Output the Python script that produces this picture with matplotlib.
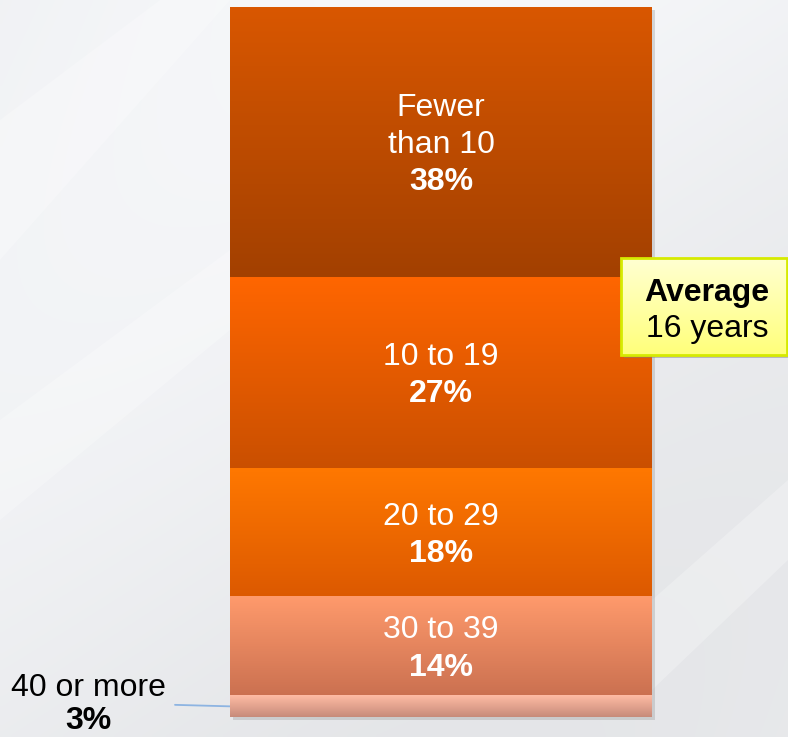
import numpy as np
import matplotlib
matplotlib.use('agg')
import matplotlib.pyplot as plt
from matplotlib.colors import to_rgb
from matplotlib.patches import Rectangle, Polygon

plt.rcParams['font.family'] = ['Liberation Sans', 'DejaVu Sans']

# data
categories = ['Fewer\nthan 10', '10 to 19', '20 to 29', '30 to 39', '40 or more']
shares = [38, 27, 18, 14, 3]
avg_label = 'Average'
avg_value = '16 years'

# gradient colours for each segment (top, bottom)
top_colors = ['#D95700', '#FF6600', '#FF7800', '#FF9A6C', '#FFBCA4']
bottom_colors = ['#A24000', '#C94F00', '#DC5900', '#CA7050', '#C48878']

W, H = 788, 737
fig = plt.figure(figsize=(W / 100, H / 100), dpi=100)


def vgrad(c1, c2, n=256):
    a = np.array(to_rgb(c1))
    b = np.array(to_rgb(c2))
    t = np.linspace(0, 1, n)[:, None]
    return (a * (1 - t) + b * t)[:, None, :]


# background
bg = fig.add_axes([0, 0, 1, 1])
bg.set_xlim(0, W)
bg.set_ylim(H, 0)
bg.axis('off')
yy, xx = np.mgrid[0:H:4, 0:W:4]
base = 0.925 + 0.03 * (1 - yy / H) + 0.02 * np.sin((xx + yy) / 260.0)
img = np.dstack([base - 0.01, base - 0.005, base + 0.005]).clip(0, 1)
bg.imshow(img, extent=[0, W, H, 0], aspect='auto', interpolation='bilinear')
for pts in [[(0, 120), (160, 0), (230, 0), (0, 260)],
            [(0, 420), (230, 250), (230, 330), (0, 520)],
            [(652, 600), (788, 480), (788, 560), (652, 690)]]:
    bg.add_patch(Polygon(pts, closed=True, color='white', alpha=0.25, lw=0))
# bar shadow
bg.add_patch(Rectangle((233, 10), 422, 710, color='#9a9a9a', alpha=0.35, lw=0))
bg.set_xlim(0, W)
bg.set_ylim(H, 0)

# stacked bar
ax = fig.add_axes([230 / W, 20 / H, 422 / W, 710 / H])
starts = np.concatenate([[0], np.cumsum(shares)[:-1]])
bars = ax.bar(0, shares, width=1, bottom=starts, color='none', lw=0)
for i, patch in enumerate(bars):
    s, h = starts[i], shares[i]
    # slight overlap so no seams show between segments
    ax.imshow(vgrad(top_colors[i], bottom_colors[i]),
              extent=[-0.5, 0.5, s + h + 0.15, s], aspect='auto', zorder=1 + i)
ax.set_xlim(-0.5, 0.5)
ax.set_ylim(100, 0)
ax.axis('off')

line_px = 37
fs = 23
dy = -3  # small downward nudge (px)
for i, cat in enumerate(categories[:-1]):
    mid = starts[i] + shares[i] / 2
    lines = cat.split('\n') + ['%d%%' % shares[i]]
    k = len(lines)
    for j, ln in enumerate(lines):
        off = (-(j - (k - 1) / 2) * line_px + dy) * 0.72
        ax.annotate(ln, xy=(0, mid), xytext=(0, off), textcoords='offset points',
                    ha='center', va='center', color='white', fontsize=fs,
                    fontweight='bold' if j == k - 1 else 'normal', zorder=10)

# small last segment, labelled outside with leader line
mid = starts[-1] + shares[-1] / 2
ax.annotate('', xy=(-0.5, mid), xytext=(-55 * 0.72, 1.5 * 0.72),
            textcoords='offset points',
            arrowprops=dict(arrowstyle='-', color='#8DB4E2', lw=1.3,
                            shrinkA=0, shrinkB=0), annotation_clip=False)
ax.annotate(categories[-1], xy=(-0.5, mid), xytext=(-142 * 0.72, 18 * 0.72),
            textcoords='offset points', ha='center', va='center',
            color='black', fontsize=fs, annotation_clip=False)
ax.annotate('%d%%' % shares[-1], xy=(-0.5, mid), xytext=(-142 * 0.72, -15 * 0.72),
            textcoords='offset points', ha='center', va='center',
            color='black', fontsize=fs, fontweight='bold', annotation_clip=False)

# average call-out box
top = fig.add_axes([0, 0, 1, 1])
top.set_xlim(0, W)
top.set_ylim(H, 0)
top.axis('off')
top.patch.set_alpha(0)
top.add_patch(Rectangle((624, 261), 166, 97, color='#808080', alpha=0.45, lw=0))
box = Rectangle((621, 258), 166, 97, facecolor='none', edgecolor='#D6EA00', lw=2, zorder=3)
top.add_patch(box)
bim = top.imshow(vgrad('#FFFFD2', '#FFFF7A'), extent=[621, 787, 355, 258], aspect='auto', zorder=2)
bim.set_clip_path(box)
top.text(707, 293, avg_label, ha='center', va='center', fontsize=fs,
         fontweight='bold', color='black', zorder=4)
top.text(707, 329, avg_value, ha='center', va='center', fontsize=fs,
         color='black', zorder=4)
top.set_xlim(0, W)
top.set_ylim(H, 0)

fig.savefig('out.png', dpi=100)
